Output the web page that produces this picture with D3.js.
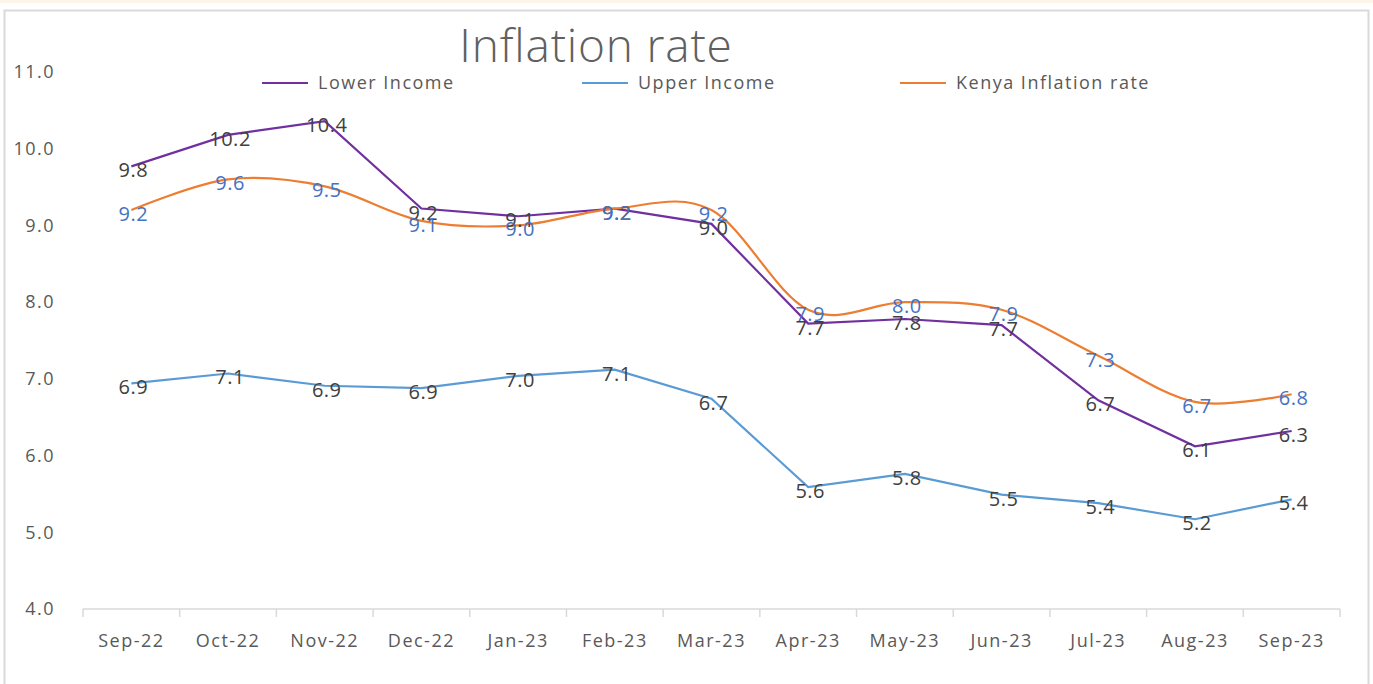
<!DOCTYPE html>
<html>
<head>
<meta charset="utf-8">
<script src="https://cdn.jsdelivr.net/npm/d3@7"></script>
<style>
  body { margin: 0; background: #fff; }
  #chart { width: 1373px; height: 684px; }
  text { font-family: "Open Sans", "Noto Sans", sans-serif; }
</style>
</head>
<body>
<div id="chart"></div>
<script>
const months = ["Sep-22", "Oct-22", "Nov-22", "Dec-22", "Jan-23", "Feb-23", "Mar-23",
                "Apr-23", "May-23", "Jun-23", "Jul-23", "Aug-23", "Sep-23"];
const lowerIncome = [9.77, 10.18, 10.36, 9.22, 9.12, 9.22, 9.02, 7.72, 7.78, 7.70, 6.72, 6.12, 6.32];
const upperIncome = [6.94, 7.07, 6.91, 6.88, 7.04, 7.12, 6.74, 5.59, 5.76, 5.49, 5.38, 5.17, 5.43];
const kenyaRate = [9.2, 9.6, 9.51, 9.06, 9.0, 9.22, 9.2, 7.9, 8.0, 7.9, 7.3, 6.7, 6.8];
const yTicks = [4, 5, 6, 7, 8, 9, 10, 11];

const width = 1373, height = 684;
const margin = { top: 72, right: 33, bottom: 75, left: 83 };

const svg = d3.select("#chart").append("svg")
    .attr("width", width)
    .attr("height", height);

// page strip + chart frame
svg.append("rect").attr("x", 0).attr("y", 0).attr("width", width).attr("height", 3)
    .attr("fill", "#fdf5e8");
svg.append("rect").attr("x", 4.5).attr("y", 10.5).attr("width", 1364).attr("height", 700)
    .attr("fill", "#fff").attr("stroke", "#d9d9d9").attr("stroke-width", 2);

const xScale = d3.scaleBand()
    .domain(months)
    .range([margin.left, width - margin.right]);

const yScale = d3.scaleLinear()
    .domain([4, 11])
    .range([height - margin.bottom, margin.top]);

const cx = d => xScale(d) + xScale.bandwidth() / 2;

// y axis: labels only
const yAxis = d3.axisLeft(yScale)
    .tickValues(yTicks)
    .tickFormat(d3.format(".1f"))
    .tickSize(0)
    .tickPadding(28);

svg.append("g")
    .attr("transform", "translate(" + margin.left + ",0)")
    .call(yAxis)
    .call(g => g.select(".domain").remove())
    .call(g => g.selectAll("text")
        .attr("fill", "#595959")
        .style("font-size", "18px")
        .style("letter-spacing", "1.5px"));

// x axis with ticks between categories
const xAxisG = svg.append("g")
    .attr("transform", "translate(0," + yScale(4) + ")");

xAxisG.append("line")
    .attr("x1", margin.left).attr("x2", width - margin.right)
    .attr("stroke", "#d9d9d9").attr("stroke-width", 1.5);

xAxisG.selectAll(".tick")
    .data(months.concat(["end"]))
    .enter().append("line")
    .attr("x1", (d, i) => i < months.length ? xScale(d) : width - margin.right)
    .attr("x2", (d, i) => i < months.length ? xScale(d) : width - margin.right)
    .attr("y1", 0).attr("y2", 8)
    .attr("stroke", "#d9d9d9").attr("stroke-width", 1.5);

xAxisG.selectAll(".xlabel")
    .data(months)
    .enter().append("text")
    .attr("x", d => cx(d))
    .attr("y", 38)
    .attr("text-anchor", "middle")
    .attr("fill", "#595959")
    .style("font-size", "18px")
    .style("letter-spacing", "1.5px")
    .text(d => d);

// series
const series = [
    { name: "Lower Income", values: lowerIncome, color: "#7030a0", label: "#404040", curve: d3.curveLinear },
    { name: "Upper Income", values: upperIncome, color: "#5b9bd5", label: "#404040", curve: d3.curveLinear },
    { name: "Kenya Inflation rate", values: kenyaRate, color: "#ed7d31", label: "#4472c4", curve: d3.curveCardinal.tension(0) }
];

series.forEach(s => {
    const line = d3.line()
        .x((d, i) => cx(months[i]))
        .y(d => yScale(d))
        .curve(s.curve);

    svg.append("path")
        .datum(s.values)
        .attr("fill", "none")
        .attr("stroke", s.color)
        .attr("stroke-width", 2.2)
        .attr("d", line);
});

series.forEach(s => {
    svg.append("g").selectAll("text")
        .data(s.values)
        .enter().append("text")
        .attr("x", (d, i) => cx(months[i]) + 2)
        .attr("y", d => yScale(d) + 4)
        .attr("dy", "0.35em")
        .attr("text-anchor", "middle")
        .attr("fill", s.label)
        .style("font-size", "20px")
        .style("letter-spacing", "0.5px")
        .text(d => d.toFixed(1));
});

// title
svg.append("text")
    .attr("x", 596)
    .attr("y", 62)
    .attr("text-anchor", "middle")
    .attr("fill", "#606060")
    .style("font-size", "46px")
    .style("font-weight", 300)
    .style("letter-spacing", "0.8px")
    .text("Inflation rate");

// legend
const legendX = [262, 582, 900];
const legend = svg.append("g").selectAll("g")
    .data(series)
    .enter().append("g")
    .attr("transform", (d, i) => "translate(" + legendX[i] + ",83)");

legend.append("line")
    .attr("x1", 0).attr("x2", 46)
    .attr("stroke", d => d.color)
    .attr("stroke-width", 2.2);

legend.append("text")
    .attr("x", 56)
    .attr("dy", "0.35em")
    .attr("fill", "#595959")
    .style("font-size", "18px")
    .style("letter-spacing", "1.5px")
    .text(d => d.name);
</script>
</body>
</html>
